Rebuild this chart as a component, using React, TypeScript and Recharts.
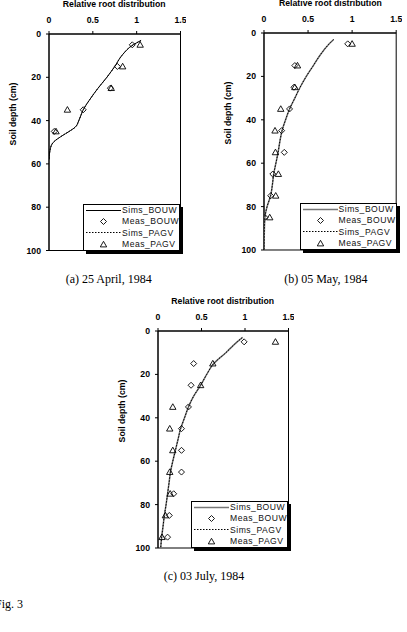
import { ScatterChart, Scatter, XAxis, YAxis, ReferenceArea } from "recharts";

const xTicks = [0, 0.5, 1, 1.5];
const depthTicks = [0, 20, 40, 60, 80, 100];
const legendNames = ["Sims_BOUW", "Meas_BOUW", "Sims_PAGV", "Meas_PAGV"];

// (a) 25 April
const simDepthA = [3, 5, 10, 15, 20, 25, 30, 35, 40, 43, 45, 47, 50, 53, 58];
const simBouwA = [1.05, 0.96, 0.83, 0.75, 0.66, 0.56, 0.47, 0.39, 0.34, 0.3, 0.23, 0.15, 0.05, 0.015, 0];
const simPagvA = [1.05, 0.96, 0.83, 0.75, 0.66, 0.56, 0.47, 0.39, 0.34, 0.3, 0.23, 0.15, 0.05, 0.015, 0];
const measDepthA = [5, 15, 25, 35, 45];
const measBouwA = [0.95, 0.78, 0.7, 0.39, 0.06];
const measPagvA = [1.04, 0.84, 0.71, 0.21, 0.08];

// (b) 05 May
const simDepthB = [3, 5, 10, 15, 20, 25, 30, 35, 40, 45, 50, 55, 60, 65, 70, 75, 80, 85, 90, 100];
const simBouwB = [0.79, 0.74, 0.64, 0.56, 0.48, 0.41, 0.35, 0.29, 0.245, 0.205, 0.18, 0.16, 0.135, 0.11, 0.095, 0.075, 0.035, 0.01, 0.005, 0];
const simPagvB = [0.79, 0.74, 0.64, 0.56, 0.48, 0.41, 0.35, 0.29, 0.245, 0.205, 0.18, 0.16, 0.135, 0.11, 0.095, 0.075, 0.035, 0.01, 0.005, 0];
const measDepthB = [5, 15, 25, 35, 45, 55, 65, 75, 85];
const measBouwB = [0.95, 0.35, 0.34, 0.29, 0.2, 0.23, 0.1, 0.076, 0.01];
const measPagvB = [1.0, 0.38, 0.35, 0.19, 0.125, 0.13, 0.163, 0.133, 0.065];

// (c) 03 July
const simDepthC = [3, 5, 10, 15, 20, 25, 30, 35, 40, 45, 50, 55, 60, 65, 70, 75, 80, 85, 90, 95, 100];
const simBouwC = [0.97, 0.91, 0.78, 0.64, 0.56, 0.49, 0.41, 0.35, 0.305, 0.26, 0.23, 0.2, 0.17, 0.143, 0.127, 0.11, 0.093, 0.073, 0.058, 0.042, 0.031];
const simPagvC = [0.97, 0.91, 0.78, 0.64, 0.56, 0.49, 0.41, 0.35, 0.305, 0.26, 0.23, 0.2, 0.17, 0.143, 0.127, 0.11, 0.093, 0.073, 0.058, 0.042, 0.031];
const measDepthC = [5, 15, 25, 35, 45, 55, 65, 75, 85, 95];
const measBouwC = [0.99, 0.41, 0.38, 0.35, 0.27, 0.27, 0.27, 0.18, 0.13, 0.11];
const measPagvC = [1.35, 0.63, 0.49, 0.17, 0.135, 0.17, 0.135, 0.14, 0.085, 0.046];

const sans = "'Liberation Sans', Arial, sans-serif";
const serif = "'Liberation Serif', 'Times New Roman', serif";

const toPoints = (depths: number[], values: number[]) =>
  depths.map((depth, i) => ({ depth, value: values[i] }));

const noDot = () => <g />;

const Diamond = (p: any) => (
  <polygon
    points={`${p.cx},${p.cy - 3} ${p.cx + 3},${p.cy} ${p.cx},${p.cy + 3} ${p.cx - 3},${p.cy}`}
    fill="none"
    stroke="#000"
    strokeWidth={0.9}
  />
);

const Triangle = (p: any) => (
  <polygon
    points={`${p.cx},${p.cy - 3.2} ${p.cx + 3.2},${p.cy + 2.4} ${p.cx - 3.2},${p.cy + 2.4}`}
    fill="none"
    stroke="#000"
    strokeWidth={0.9}
  />
);

const tickStyle = { fontSize: 8.7, fontWeight: 700, fill: "#000", fontFamily: sans };

const YW = 40;
const XH = 30;

function Legend({ x, y, bouwColor, bouwWidth }: any) {
  const rows = [
    <line x1={2} x2={37} y1={5.5} y2={5.5} stroke={bouwColor} strokeWidth={bouwWidth} />,
    <polygon points="19.5,2.5 22.5,5.5 19.5,8.5 16.5,5.5" fill="none" stroke="#000" strokeWidth={0.9} />,
    <line x1={2} x2={37} y1={5.5} y2={5.5} stroke="#000" strokeWidth={1} strokeDasharray="1.5 1.5" />,
    <polygon points="19.5,2.3 22.7,7.9 16.3,7.9" fill="none" stroke="#000" strokeWidth={0.9} />,
  ];
  return (
    <div
      style={{
        position: "absolute",
        left: x,
        top: y,
        width: 97,
        height: 47,
        boxSizing: "border-box",
        border: "1px solid #000",
        background: "#fff",
        boxShadow: "3px 3px 0 #000",
        paddingTop: 0,
      }}
    >
      {legendNames.map((name, i) => (
        <div key={name} style={{ display: "flex", alignItems: "center", height: 11.2 }}>
          <svg width={38} height={11} style={{ flex: "none" }}>
            {rows[i]}
          </svg>
          <span style={{ fontFamily: sans, fontSize: 8.6, letterSpacing: 0.5, color: "#111", lineHeight: 1 }}>
            {name}
          </span>
        </div>
      ))}
    </div>
  );
}

function Panel({ left, top, w, h, simDepth, simBouw, simPagv, measDepth, measBouw, measPagv, bouwColor, bouwWidth, caption, capX, capY }: any) {
  return (
    <>
      <div style={{ position: "absolute", left: left - YW, top: top - XH }}>
        <ScatterChart width={YW + w + 6} height={XH + h + 6} margin={{ top: 0, right: 6, bottom: 6, left: 0 }}>
          <XAxis
            type="number"
            dataKey="value"
            orientation="top"
            domain={[0, 1.5]}
            ticks={xTicks}
            interval={0}
            height={XH}
            tickSize={3}
            tickMargin={8}
            tick={tickStyle}
            axisLine={{ stroke: "#000" }}
            tickLine={{ stroke: "#000" }}
            allowDataOverflow
          />
          <YAxis
            type="number"
            dataKey="depth"
            reversed
            domain={[0, 100]}
            ticks={depthTicks}
            interval={0}
            width={YW}
            tickSize={3}
            tickMargin={5}
            tick={tickStyle}
            axisLine={{ stroke: "#000" }}
            tickLine={{ stroke: "#000" }}
            allowDataOverflow
          />
          <ReferenceArea x1={0} x2={1.5} y1={0} y2={100} fill="none" stroke="#000" strokeWidth={1} ifOverflow="visible" />
          <Scatter
            data={toPoints(simDepth, simBouw)}
            line={{ stroke: bouwColor, strokeWidth: bouwWidth }}
            lineJointType="monotoneY"
            shape={noDot}
            isAnimationActive={false}
          />
          <Scatter
            data={toPoints(simDepth, simPagv)}
            line={{ stroke: "#000", strokeWidth: 1, strokeDasharray: "1.5 1.5" }}
            lineJointType="monotoneY"
            shape={noDot}
            isAnimationActive={false}
          />
          <Scatter data={toPoints(measDepth, measBouw)} shape={Diamond} isAnimationActive={false} />
          <Scatter data={toPoints(measDepth, measPagv)} shape={Triangle} isAnimationActive={false} />
        </ScatterChart>
      </div>
      <div
        style={{
          position: "absolute",
          left: left + w / 2,
          top: top - 30,
          transform: "translate(-50%, -50%)",
          whiteSpace: "nowrap",
          fontFamily: sans,
          fontSize: 8.7,
          fontWeight: 700,
          lineHeight: 1,
        }}
      >
        Relative root distribution
      </div>
      <div
        style={{
          position: "absolute",
          left: left - 36,
          top: top + 80,
          transform: "translate(-50%, -50%) rotate(-90deg)",
          whiteSpace: "nowrap",
          fontFamily: sans,
          fontSize: 8.7,
          fontWeight: 700,
          lineHeight: 1,
        }}
      >
        Soil depth (cm)
      </div>
      <Legend x={left + w - 97} y={top + 170} bouwColor={bouwColor} bouwWidth={bouwWidth} />
      <div
        style={{
          position: "absolute",
          left: capX,
          top: capY,
          transform: "translate(-50%, -50%)",
          whiteSpace: "nowrap",
          fontFamily: serif,
          fontSize: 12,
          lineHeight: 1,
        }}
      >
        {caption}
      </div>
    </>
  );
}

export default function App() {
  return (
    <div
      style={{
        position: "absolute",
        left: 0,
        top: 0,
        width: 407,
        height: 632,
        background: "#fff",
        overflow: "hidden",
        color: "#000",
      }}
    >
      <Panel
        left={48.5}
        top={34}
        w={131.5}
        h={216.5}
        simDepth={simDepthA}
        simBouw={simBouwA}
        simPagv={simPagvA}
        measDepth={measDepthA}
        measBouw={measBouwA}
        measPagv={measPagvA}
        bouwColor="#000"
        bouwWidth={1}
        caption="(a) 25 April, 1984"
        capX={108.7}
        capY={279}
      />
      <Panel
        left={264.3}
        top={33}
        w={132.2}
        h={217}
        simDepth={simDepthB}
        simBouw={simBouwB}
        simPagv={simPagvB}
        measDepth={measDepthB}
        measBouw={measBouwB}
        measPagv={measPagvB}
        bouwColor="#777"
        bouwWidth={1.5}
        caption="(b) 05 May, 1984"
        capX={325.8}
        capY={279}
      />
      <Panel
        left={157.5}
        top={331}
        w={130.5}
        h={217}
        simDepth={simDepthC}
        simBouw={simBouwC}
        simPagv={simPagvC}
        measDepth={measDepthC}
        measBouw={measBouwC}
        measPagv={measPagvC}
        bouwColor="#777"
        bouwWidth={1.5}
        caption="(c) 03 July, 1984"
        capX={204}
        capY={576}
      />
      <div
        style={{
          position: "absolute",
          left: -5,
          top: 604,
          transform: "translateY(-50%)",
          fontFamily: serif,
          fontSize: 12,
          lineHeight: 1,
          whiteSpace: "nowrap",
        }}
      >
        Fig. 3
      </div>
    </div>
  );
}
